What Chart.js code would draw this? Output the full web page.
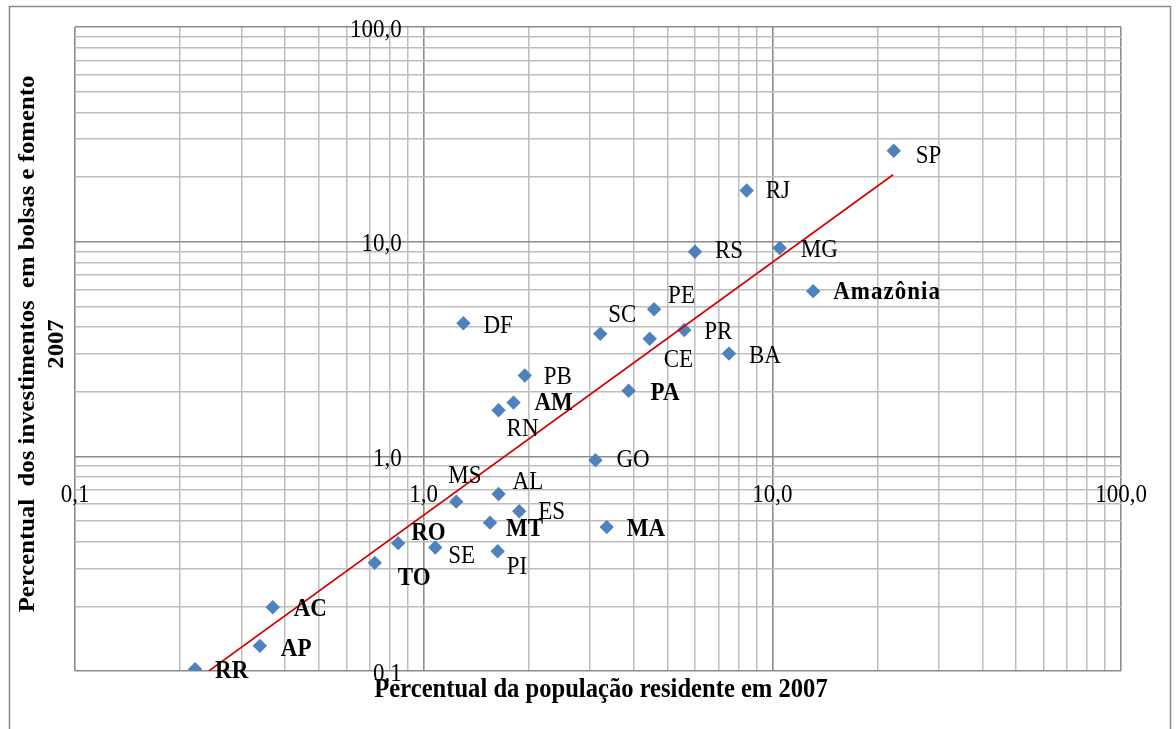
<!DOCTYPE html>
<html>
<head>
<meta charset="utf-8">
<script src="https://cdn.jsdelivr.net/npm/chart.js@4.4.1/dist/chart.umd.min.js"></script>
<style>
  html, body { margin: 0; padding: 0; background: #ffffff; }
  #wrap { width: 1176px; height: 729px; position: relative; }
</style>
</head>
<body>
<div id="wrap"><canvas id="chart" width="1176" height="729"></canvas></div>
<script>
// Unidades da federação (and the Amazônia aggregate)
const ufNames = ['SP', 'RJ', 'MG', 'RS', 'Amazônia', 'PE', 'PR', 'SC', 'CE', 'DF', 'BA', 'PB',
  'AM', 'RN', 'PA', 'GO', 'MS', 'AL', 'ES', 'MT', 'MA', 'SE', 'PI', 'RO', 'TO', 'AC', 'AP', 'RR'];

// Percentual da população residente em 2007
const popPct = [22.3, 8.44, 10.5, 6.0, 13.1, 4.58, 5.59, 3.21, 4.45, 1.30, 7.51, 1.95,
  1.81, 1.64, 3.87, 3.11, 1.24, 1.64, 1.88, 1.55, 3.35, 1.08, 1.63, 0.845, 0.724, 0.369, 0.339, 0.221];

// Percentual dos investimentos em bolsas e fomento, 2007
const invPct = [26.5, 17.3, 9.35, 8.98, 5.88, 4.84, 3.88, 3.72, 3.53, 4.17, 3.01, 2.38,
  1.78, 1.64, 2.02, 0.96, 0.615, 0.668, 0.555, 0.491, 0.468, 0.376, 0.361, 0.394, 0.319, 0.198, 0.131, 0.102];

// Units shown in bold (Amazônia Legal)
const amazonianUnits = ['Amazônia', 'AM', 'PA', 'MA', 'MT', 'RO', 'TO', 'AC', 'AP', 'RR'];

// Power trend line, visible end points
const trendX = [0.242, 22.2];
const trendY = [0.1, 20.5];

// Log grid lines and labelled ticks
const gridValues = [0.1, 0.2, 0.3, 0.4, 0.5, 0.6, 0.7, 0.8, 0.9,
  1, 2, 3, 4, 5, 6, 7, 8, 9,
  10, 20, 30, 40, 50, 60, 70, 80, 90, 100];
const decadeValues = [0.1, 1, 10, 100];
const decadeLabels = ['0,1', '1,0', '10,0', '100,0'];

const xTitle = 'Percentual da população residente em 2007';
const yTitleLines = ['Percentual  dos investimentos  em bolsas e fomento', '2007'];

// Label placement around each marker: [dx to text start, dy to text middle]
const labelOffsets = {
  'SP': [22, 5], 'RJ': [19, 1], 'MG': [21, 2], 'RS': [20, 0], 'Amazônia': [20, 1],
  'PE': [14, -13], 'PR': [20, 2], 'SC': [8, -19], 'CE': [14, 21], 'DF': [20, 3],
  'BA': [20, 3], 'PB': [19, 2], 'AM': [21, 1], 'RN': [8, 19], 'PA': [22, 3],
  'GO': [21, 0], 'MS': [-8, -25], 'AL': [14, -12], 'ES': [19, 1], 'MT': [16, 7],
  'MA': [20, 2], 'SE': [13, 9], 'PI': [9, 16], 'RO': [13, -10], 'TO': [23, 15],
  'AC': [21, 2], 'AP': [21, 4], 'RR': [20, 2]
};

const SERIF = '"Liberation Serif", "Times New Roman", serif';
const TEXT_STRETCH = 1.12;   // glyphs are drawn slightly taller than wide
const isDecade = v => decadeValues.some(d => Math.abs(d - v) < 1e-9);

const scatterPoints = ufNames.map((n, i) => ({ x: popPct[i], y: invPct[i], name: n }));
const trendPoints = trendX.map((x, i) => ({ x: x, y: trendY[i] }));

// Draw horizontal text with a vertical stretch around its middle line
function stretchedText(ctx, text, x, y) {
  ctx.save();
  ctx.translate(x, y);
  ctx.scale(1, TEXT_STRETCH);
  ctx.fillText(text, 0, 0);
  ctx.restore();
}

const gridStyle = {
  drawTicks: false,
  color: ctx => (ctx.tick && isDecade(ctx.tick.value)) ? '#8c8c8c' : '#bebebe',
  lineWidth: ctx => (ctx.tick && isDecade(ctx.tick.value)) ? 1.6 : 1.5
};

const framePlugin = {
  id: 'frame',
  beforeDraw(chart) {
    const ctx = chart.ctx;
    ctx.save();
    ctx.fillStyle = '#ffffff';
    ctx.fillRect(0, 0, chart.width, chart.height);
    ctx.strokeStyle = '#8a8a8a';
    ctx.lineWidth = 1.5;
    ctx.strokeRect(9.5, 6.5, 1161, 760);
    ctx.restore();
  }
};

const axisTextPlugin = {
  id: 'axisText',
  afterDraw(chart) {
    const ctx = chart.ctx;
    const xs = chart.scales.x, ys = chart.scales.y;
    const xAxisY = ys.getPixelForValue(1);
    const yAxisX = xs.getPixelForValue(1);
    ctx.save();
    ctx.fillStyle = '#000000';
    ctx.font = '23px ' + SERIF;
    ctx.textBaseline = 'middle';
    // x tick labels, below the x axis crossing at y = 1
    ctx.textAlign = 'center';
    decadeValues.forEach((v, i) => {
      stretchedText(ctx, decadeLabels[i], xs.getPixelForValue(v), xAxisY + 39);
    });
    // y tick labels, left of the y axis crossing at x = 1
    ctx.textAlign = 'right';
    decadeValues.forEach((v, i) => {
      stretchedText(ctx, decadeLabels[i], yAxisX - 22, ys.getPixelForValue(v) + 3);
    });
    // axis titles
    ctx.font = 'bold 24.6px ' + SERIF;
    ctx.textAlign = 'center';
    stretchedText(ctx, xTitle, 601, 690);
    ctx.font = 'bold 23px ' + SERIF;
    [[28, yTitleLines[0]], [57, yTitleLines[1]]].forEach(([cx, txt]) => {
      ctx.save();
      ctx.translate(cx, 344);
      ctx.rotate(-Math.PI / 2);
      ctx.scale(1.075, 1);
      ctx.fillText(txt, 0, 0);
      ctx.restore();
    });
    ctx.restore();
  }
};

const pointLabelPlugin = {
  id: 'pointLabels',
  afterDatasetsDraw(chart) {
    const ctx = chart.ctx;
    const meta = chart.getDatasetMeta(1);
    ctx.save();
    ctx.fillStyle = '#000000';
    ctx.textAlign = 'left';
    ctx.textBaseline = 'middle';
    meta.data.forEach((el, i) => {
      const name = ufNames[i];
      const off = labelOffsets[name] || [20, 0];
      const bold = amazonianUnits.includes(name);
      ctx.font = (bold ? 'bold ' : '') + '23px ' + SERIF;
      if ('letterSpacing' in ctx) ctx.letterSpacing = name === 'Amazônia' ? '1px' : '0px';
      stretchedText(ctx, name, el.x + off[0], el.y + off[1]);
    });
    ctx.restore();
  }
};

new Chart(document.getElementById('chart'), {
  data: {
    datasets: [
      {
        type: 'line',
        label: 'Tendência',
        data: trendPoints,
        borderColor: '#d40000',
        borderWidth: 1.6,
        pointRadius: 0,
        fill: false,
        tension: 0
      },
      {
        type: 'scatter',
        label: 'UF',
        data: scatterPoints,
        pointStyle: 'rectRot',
        pointRadius: 7.2,
        pointBackgroundColor: '#4f81bd',
        pointBorderColor: '#4f81bd',
        pointBorderWidth: 0
      }
    ]
  },
  options: {
    responsive: false,
    animation: false,
    events: [],
    layout: { padding: { left: 75, top: 27, right: 55, bottom: 58 } },
    plugins: { legend: { display: false }, tooltip: { enabled: false } },
    scales: {
      x: {
        type: 'logarithmic',
        min: 0.1,
        max: 100,
        afterBuildTicks: s => { s.ticks = gridValues.map(v => ({ value: v })); },
        ticks: { display: false },
        grid: gridStyle,
        border: { display: false }
      },
      y: {
        type: 'logarithmic',
        min: 0.1,
        max: 100,
        afterBuildTicks: s => { s.ticks = gridValues.map(v => ({ value: v })); },
        ticks: { display: false },
        grid: gridStyle,
        border: { display: false }
      }
    }
  },
  plugins: [framePlugin, axisTextPlugin, pointLabelPlugin]
});
</script>
</body>
</html>
